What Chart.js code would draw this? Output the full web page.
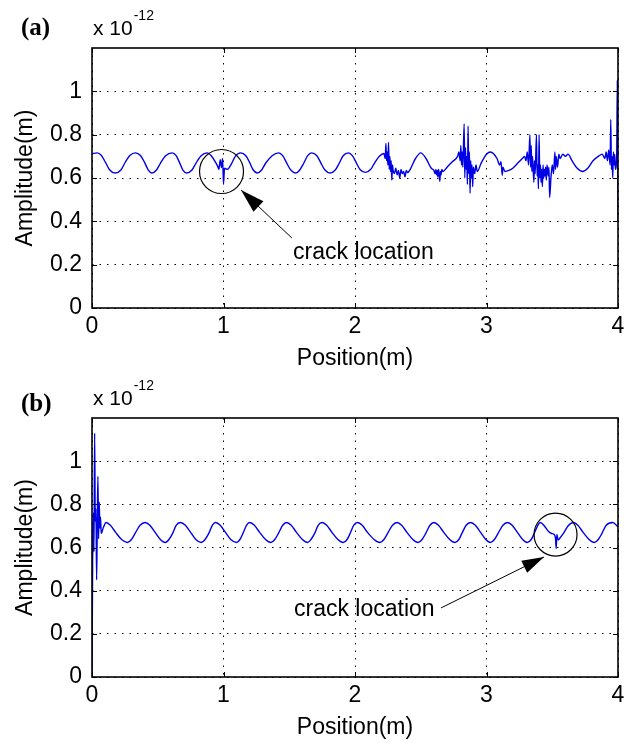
<!DOCTYPE html>
<html>
<head>
<meta charset="utf-8">
<script src="https://cdn.jsdelivr.net/npm/chart.js@4.4.1/dist/chart.umd.min.js"></script>
<style>
  html, body { margin: 0; padding: 0; background: #fff; }
  body { width: 632px; height: 743px; position: relative; overflow: hidden; }
  canvas { position: absolute; left: 0; }
  #chartA { top: 0; }
  #chartB { top: 370px; }
</style>
</head>
<body>
<canvas id="chartA" width="632" height="380"></canvas>
<canvas id="chartB" width="632" height="373"></canvas>
<script>
// axis ticks
const xTicks = [0, 1, 2, 3, 4];
const yTicks = [0, 0.2, 0.4, 0.6, 0.8, 1];

// (a) position (m) / amplitude (x 1e-12 m)
const posA = [
  0, 0.04, 0.07, 0.10, 0.135, 0.176, 0.22, 0.255, 0.29, 0.33,
  0.37, 0.40, 0.425, 0.456, 0.49, 0.52, 0.56, 0.61, 0.64, 0.665,
  0.69, 0.72, 0.76, 0.79, 0.83, 0.875, 0.91, 0.94, 0.955, 0.965,
  0.975, 0.985, 0.993, 1.0, 1.008, 1.03, 1.06, 1.09, 1.13, 1.17,
  1.2, 1.225, 1.257, 1.29, 1.32, 1.37, 1.42, 1.45, 1.48, 1.51,
  1.55, 1.58, 1.61, 1.64, 1.67, 1.71, 1.74, 1.77, 1.81, 1.85,
  1.88, 1.91, 1.95, 1.98, 2.01, 2.04, 2.08, 2.12, 2.15, 2.185,
  2.22, 2.23, 2.235, 2.24, 2.245, 2.25, 2.255, 2.26, 2.265, 2.27,
  2.275, 2.28, 2.285, 2.29, 2.30, 2.31, 2.32, 2.33, 2.34, 2.35,
  2.36, 2.37, 2.38, 2.39, 2.40, 2.42, 2.46, 2.50, 2.54, 2.58,
  2.60, 2.61, 2.615, 2.62, 2.625, 2.63, 2.635, 2.64, 2.645, 2.65,
  2.655, 2.66, 2.67, 2.70, 2.74, 2.78, 2.79, 2.80, 2.805, 2.81,
  2.815, 2.82, 2.83, 2.835, 2.84, 2.845, 2.85, 2.855, 2.86, 2.865,
  2.87, 2.875, 2.88, 2.885, 2.89, 2.895, 2.90, 2.91, 2.92, 2.93,
  2.96, 3.00, 3.03, 3.08, 3.10, 3.11, 3.12, 3.125, 3.14, 3.17,
  3.20, 3.24, 3.28, 3.29, 3.30, 3.31, 3.32, 3.33, 3.335, 3.34,
  3.345, 3.35, 3.36, 3.365, 3.37, 3.38, 3.385, 3.39, 3.395, 3.40,
  3.405, 3.41, 3.415, 3.42, 3.425, 3.43, 3.435, 3.44, 3.445, 3.45,
  3.455, 3.46, 3.47, 3.475, 3.48, 3.49, 3.50, 3.51, 3.52, 3.525,
  3.53, 3.54, 3.55, 3.56, 3.58, 3.60, 3.62, 3.65, 3.69, 3.73,
  3.77, 3.81, 3.85, 3.88, 3.90, 3.91, 3.92, 3.93, 3.94, 3.945,
  3.95, 3.955, 3.96, 3.965, 3.97, 3.975, 3.98, 3.99, 3.995, 4.0
];
const ampA = [
  0.712, 0.716, 0.705, 0.675, 0.637, 0.623, 0.637, 0.675, 0.705, 0.716,
  0.703, 0.672, 0.64, 0.623, 0.637, 0.668, 0.703, 0.716, 0.703, 0.672,
  0.638, 0.623, 0.637, 0.668, 0.703, 0.716, 0.70, 0.672, 0.655, 0.64,
  0.685, 0.648, 0.69, 0.573, 0.645, 0.64, 0.665, 0.70, 0.716, 0.703,
  0.67, 0.638, 0.623, 0.637, 0.668, 0.703, 0.716, 0.703, 0.67, 0.638,
  0.623, 0.637, 0.668, 0.703, 0.716, 0.703, 0.67, 0.638, 0.623, 0.637,
  0.668, 0.703, 0.716, 0.703, 0.67, 0.638, 0.626, 0.64, 0.67, 0.70,
  0.713, 0.69, 0.76, 0.68, 0.72, 0.66, 0.765, 0.64, 0.70, 0.63,
  0.68, 0.59, 0.66, 0.635, 0.62, 0.645, 0.615, 0.635, 0.60, 0.64,
  0.62, 0.63, 0.605, 0.635, 0.625, 0.64, 0.69, 0.716, 0.69, 0.645,
  0.635, 0.62, 0.64, 0.615, 0.635, 0.605, 0.64, 0.62, 0.585, 0.63,
  0.615, 0.64, 0.63, 0.65, 0.675, 0.70, 0.72, 0.68, 0.75, 0.66,
  0.72, 0.65, 0.85, 0.60, 0.74, 0.64, 0.70, 0.57, 0.84, 0.62,
  0.72, 0.53, 0.68, 0.60, 0.66, 0.56, 0.65, 0.62, 0.66, 0.63,
  0.67, 0.71, 0.72, 0.69, 0.66, 0.675, 0.612, 0.65, 0.63, 0.635,
  0.645, 0.67, 0.695, 0.70, 0.68, 0.72, 0.66, 0.80, 0.65, 0.75,
  0.63, 0.70, 0.58, 0.68, 0.62, 0.80, 0.61, 0.66, 0.55, 0.80,
  0.60, 0.66, 0.58, 0.64, 0.56, 0.66, 0.60, 0.64, 0.61, 0.65,
  0.59, 0.66, 0.61, 0.65, 0.51, 0.60, 0.66, 0.62, 0.72, 0.64,
  0.70, 0.65, 0.71, 0.69, 0.71, 0.70, 0.71, 0.68, 0.645, 0.63,
  0.645, 0.68, 0.70, 0.71, 0.69, 0.72, 0.68, 0.73, 0.66, 0.87,
  0.64, 0.70, 0.60, 0.72, 0.66, 0.71, 0.64, 0.70, 1.05, 0.40
];

// (b) position (m) / amplitude (x 1e-12 m)
const posB = [
  0, 0.005, 0.01, 0.015, 0.02, 0.025, 0.03, 0.035, 0.04, 0.045,
  0.05, 0.055, 0.06, 0.065, 0.07, 0.085, 0.107, 0.14, 0.18, 0.225,
  0.27, 0.30, 0.33, 0.365, 0.405, 0.44, 0.48, 0.52, 0.557, 0.585,
  0.615, 0.64, 0.672, 0.71, 0.75, 0.79, 0.83, 0.86, 0.89, 0.915,
  0.94, 0.975, 1.015, 1.055, 1.10, 1.125, 1.15, 1.175, 1.20, 1.235,
  1.275, 1.32, 1.36, 1.39, 1.42, 1.45, 1.48, 1.515, 1.555, 1.60,
  1.64, 1.665, 1.695, 1.72, 1.75, 1.785, 1.825, 1.87, 1.91, 1.94,
  1.965, 1.99, 2.02, 2.055, 2.095, 2.145, 2.19, 2.22, 2.25, 2.285,
  2.32, 2.355, 2.395, 2.44, 2.48, 2.51, 2.54, 2.57, 2.60, 2.635,
  2.675, 2.72, 2.76, 2.79, 2.815, 2.845, 2.88, 2.915, 2.955, 2.995,
  3.03, 3.06, 3.09, 3.125, 3.16, 3.195, 3.235, 3.275, 3.31, 3.34,
  3.365, 3.39, 3.41, 3.44, 3.47, 3.495, 3.515, 3.525, 3.53, 3.535,
  3.545, 3.56, 3.585, 3.62, 3.66, 3.695, 3.735, 3.78, 3.82, 3.85,
  3.88, 3.91, 3.96, 4.0
];
const ampB = [
  0, 0.55, 0.76, 0.58, 1.13, 0.72, 0.78, 0.45, 0.70, 0.93,
  0.64, 0.81, 0.69, 0.74, 0.665, 0.69, 0.716, 0.703, 0.67, 0.637,
  0.623, 0.637, 0.668, 0.703, 0.716, 0.703, 0.67, 0.637, 0.623, 0.637,
  0.668, 0.703, 0.716, 0.703, 0.67, 0.637, 0.623, 0.637, 0.668, 0.703,
  0.716, 0.703, 0.67, 0.637, 0.623, 0.637, 0.668, 0.703, 0.716, 0.703,
  0.67, 0.637, 0.623, 0.637, 0.668, 0.703, 0.716, 0.703, 0.67, 0.637,
  0.623, 0.637, 0.668, 0.703, 0.716, 0.703, 0.67, 0.637, 0.623, 0.637,
  0.668, 0.703, 0.716, 0.703, 0.67, 0.637, 0.623, 0.637, 0.668, 0.703,
  0.716, 0.703, 0.67, 0.637, 0.623, 0.637, 0.668, 0.703, 0.716, 0.703,
  0.67, 0.637, 0.623, 0.637, 0.668, 0.703, 0.716, 0.703, 0.67, 0.637,
  0.623, 0.637, 0.668, 0.703, 0.716, 0.703, 0.67, 0.637, 0.623, 0.637,
  0.668, 0.703, 0.716, 0.70, 0.675, 0.665, 0.66, 0.64, 0.595, 0.66,
  0.635, 0.645, 0.665, 0.70, 0.716, 0.703, 0.67, 0.637, 0.623, 0.637,
  0.668, 0.703, 0.716, 0.695
];

const FONT = '"Liberation Sans", Arial, Helvetica, sans-serif';

// frame, inward tick marks, headers and the crack note
const matlabFrame = {
  id: 'matlabFrame',
  afterDatasetsDraw(chart, args, opts) {
    const { ctx, chartArea: a, scales: { x, y } } = chart;
    ctx.save();
    ctx.strokeStyle = '#000';
    ctx.fillStyle = '#000';

    ctx.lineWidth = 1;
    ctx.beginPath();
    xTicks.forEach(v => {
      const px = Math.round(x.getPixelForValue(v)) + 0.5;
      ctx.moveTo(px, a.bottom); ctx.lineTo(px, a.bottom - 5);
      ctx.moveTo(px, a.top); ctx.lineTo(px, a.top + 5);
    });
    yTicks.forEach(v => {
      const py = Math.round(y.getPixelForValue(v)) + 0.5;
      ctx.moveTo(a.left, py); ctx.lineTo(a.left + 5, py);
      ctx.moveTo(a.right, py); ctx.lineTo(a.right - 5, py);
    });
    ctx.stroke();

    ctx.lineWidth = 1.6;
    ctx.strokeRect(a.left, a.top, a.right - a.left, a.bottom - a.top);

    // circle round the crack
    const n = opts.note;
    ctx.lineWidth = 1.2;
    ctx.beginPath();
    ctx.ellipse(x.getPixelForValue(n.circle[0]), y.getPixelForValue(n.circle[1]), n.r, n.r, 0, 0, Math.PI * 2);
    ctx.stroke();

    // arrow
    const tx = x.getPixelForValue(n.tip[0]), ty = y.getPixelForValue(n.tip[1]);
    const fx = x.getPixelForValue(n.tail[0]), fy = y.getPixelForValue(n.tail[1]);
    ctx.lineWidth = 1;
    ctx.beginPath();
    ctx.moveTo(fx, fy);
    ctx.lineTo(tx, ty);
    ctx.stroke();
    const ang = Math.atan2(ty - fy, tx - fx);
    const L = n.head, W = n.head * 0.3;
    const bx = tx - L * Math.cos(ang), by = ty - L * Math.sin(ang);
    ctx.beginPath();
    ctx.moveTo(tx, ty);
    ctx.lineTo(bx + W * Math.sin(ang), by - W * Math.cos(ang));
    ctx.lineTo(bx - W * Math.sin(ang), by + W * Math.cos(ang));
    ctx.closePath();
    ctx.fill();

    ctx.font = '23px ' + FONT;
    ctx.textAlign = 'left';
    ctx.textBaseline = 'middle';
    ctx.fillText('crack location', x.getPixelForValue(n.text[0]), y.getPixelForValue(n.text[1]));

    // panel letter and exponent
    ctx.textBaseline = 'alphabetic';
    ctx.font = 'bold 25px "Liberation Serif", "Times New Roman", serif';
    ctx.fillText(opts.panel, 21, opts.panelY);
    ctx.font = '21px ' + FONT;
    ctx.fillText('x 10', a.left + 1, a.top - 13);
    const w = ctx.measureText('x 10').width;
    ctx.font = '14px ' + FONT;
    ctx.fillText('-12', a.left + 2 + w, a.top - 28);
    ctx.restore();
  }
};

function makeChart(id, pos, amp, xAxisHeight, titlePad, panel, panelY, note) {
  return new Chart(document.getElementById(id), {
    type: 'line',
    data: {
      datasets: [{
        data: pos.map((p, i) => ({ x: p, y: amp[i] })),
        borderColor: '#0000e6',
        borderWidth: 1.4,
        pointRadius: 0,
        cubicInterpolationMode: 'monotone',
        fill: false
      }]
    },
    options: {
      responsive: false,
      animation: false,
      devicePixelRatio: 1,
      layout: { padding: { top: 48, right: 14, left: 0, bottom: 0 } },
      plugins: {
        legend: { display: false },
        tooltip: { enabled: false },
        matlabFrame: { panel: panel, panelY: panelY, note: note }
      },
      scales: {
        x: {
          type: 'linear',
          min: 0,
          max: 4,
          afterBuildTicks: s => { s.ticks = xTicks.map(v => ({ value: v })); },
          afterFit: s => { s.height = xAxisHeight; },
          ticks: { color: '#000', font: { family: FONT, size: 23 }, padding: 5, callback: v => String(v) },
          grid: { color: '#000', lineWidth: 1, drawTicks: false },
          border: { display: false, dash: [1.5, 6] },
          title: {
            display: true, text: 'Position(m)', color: '#000',
            font: { family: FONT, size: 23 }, padding: { top: 0, bottom: titlePad }
          }
        },
        y: {
          min: 0,
          max: 1.2,
          afterBuildTicks: s => { s.ticks = yTicks.map(v => ({ value: v })); },
          afterFit: s => { s.width = 92; },
          ticks: { color: '#000', font: { family: FONT, size: 23 }, padding: 10, callback: v => String(v) },
          grid: { color: '#000', lineWidth: 1, drawTicks: false },
          border: { display: false, dash: [1.5, 6] },
          title: {
            display: true, text: 'Amplitude(m)', color: '#000',
            font: { family: FONT, size: 23 }, padding: { top: 12, bottom: 0 }
          }
        }
      }
    },
    plugins: [matlabFrame]
  });
}

makeChart('chartA', posA, ampA, 72, 8, '(a)', 35,
  { circle: [0.985, 0.63], r: 22, tip: [1.133, 0.545], tail: [1.52, 0.323], head: 24, text: [1.529, 0.254] });
makeChart('chartB', posB, ampB, 66, 2, '(b)', 41,
  { circle: [3.525, 0.66], r: 21.5, tip: [3.437, 0.556], tail: [2.654, 0.32], head: 22, text: [1.536, 0.31] });
</script>
</body>
</html>
